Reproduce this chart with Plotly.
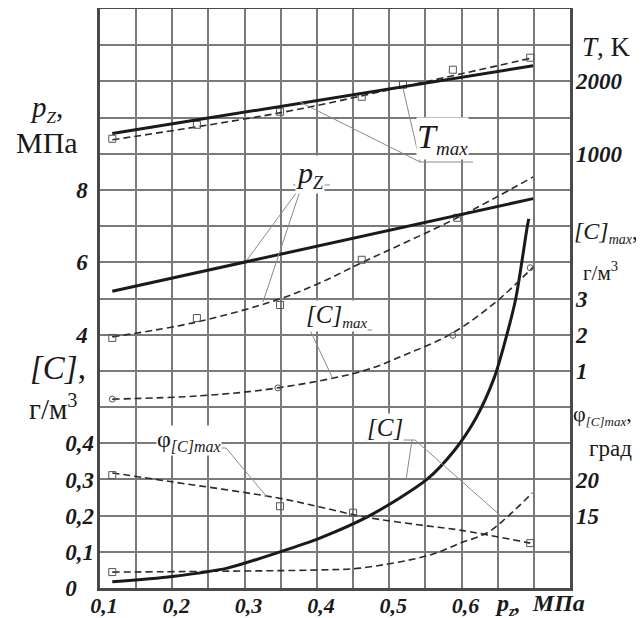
import plotly.graph_objects as go

# ---------------- data ----------------
# x axis: p_c, MPa
x_ticks = [0.1, 0.15, 0.2, 0.25, 0.3, 0.35, 0.4, 0.45, 0.5, 0.55, 0.6, 0.65, 0.7, 0.75]
x_ticktext = ["0,1", "", "0,2", "", "0,3", "", "0,4", "", "0,5", "", "0,6", "", "", ""]

# left axis p_z (MPa) – grid rows
pz_ticks = list(range(-3, 14))
pz_labels = {4: "4", 6: "6", 8: "8"}

# left axis [C], g/m3
c_ticks = [0, 0.1, 0.2, 0.3, 0.4]
c_ticktext = ["0\u00a0\u00a0\u00a0", "0,1", "0,2", "0,3", "0,4"]

# right axes
t_ticks = [1000, 2000]
cmax_ticks = [1, 2, 3]
phi_ticks = [15, 20]

# T_max, K
t_solid_x = [0.117, 0.699]
t_solid_y = [1280, 2216]
t_dash_x = [0.117, 0.349, 0.519, 0.699]
t_dash_y = [1193, 1566, 1926, 2327]
t_mark_x = [0.117, 0.234, 0.349, 0.462, 0.519, 0.588, 0.695]
t_mark_y = [1207, 1400, 1580, 1787, 1953, 2161, 2327]

# p_z, MPa
pz_solid_x = [0.117, 0.699]
pz_solid_y = [5.2, 7.76]
pz_dash_x = [0.117, 0.234, 0.349, 0.404, 0.462, 0.594, 0.699]
pz_dash_y = [3.94, 4.35, 4.99, 5.43, 5.99, 7.23, 8.36]
pz_mark_x = [0.117, 0.234, 0.349, 0.462, 0.594]
pz_mark_y = [3.91, 4.46, 4.82, 6.07, 7.23]

# [C]max, g/m3
cmax_x = [0.117, 0.238, 0.346, 0.464, 0.519, 0.588, 0.649, 0.699]
cmax_y = [0.22, 0.31, 0.53, 1.0, 1.42, 2.05, 2.93, 3.87]
cmax_mark_x = [0.117, 0.346, 0.588, 0.695]
cmax_mark_y = [0.22, 0.53, 1.98, 3.85]

# [C], g/m3 (solid)
c_solid_x = [0.117, 0.2, 0.276, 0.349, 0.404, 0.473, 0.552, 0.59, 0.62, 0.645, 0.66, 0.675, 0.691, 0.693]
c_solid_y = [0.017, 0.032, 0.055, 0.10, 0.138, 0.20, 0.30, 0.38, 0.47, 0.58, 0.68, 0.80, 1.00, 1.02]
# [C], g/m3 (dashed)
c_dash_x = [0.117, 0.25, 0.404, 0.46, 0.556, 0.598, 0.635, 0.663, 0.698]
c_dash_y = [0.044, 0.046, 0.050, 0.055, 0.091, 0.124, 0.152, 0.196, 0.263]
c_mark_x = [0.117]
c_mark_y = [0.044]

# phi_[C]max, deg
phi_x = [0.117, 0.201, 0.346, 0.404, 0.467, 0.543, 0.598, 0.695]
phi_y = [20.9, 19.65, 17.44, 16.2, 14.8, 13.7, 13.0, 11.2]
phi_mark_x = [0.117, 0.349, 0.45, 0.695]
phi_mark_y = [20.6, 16.3, 15.4, 11.2]

# ---------------- figure ----------------
OFF = 8                      # page body margin in the browser
W, H = 644 - OFF, 618 - OFF
ML, MR, MT, MB = 92, 74, 1, 30
PW, PH = W - ML - MR, H - MT - MB
SERIF = "Liberation Serif, Times New Roman, serif"
INK = "#1a1a1a"


def px(x):
    return (x - OFF - ML) / PW


def py(y):
    return (H - MB - (y - OFF)) / PH


fig = go.Figure()

solid = dict(color=INK, width=3)
dashed = dict(color="#2a2a2a", width=1.6, dash="7px,4px")
sq = dict(symbol="square-open", size=7, color="#555", line=dict(width=1))
ci = dict(symbol="circle-open", size=6, color="#555", line=dict(width=1))

fig.add_trace(go.Scatter(x=t_dash_x, y=t_dash_y, yaxis="y3", mode="lines", line=dashed, line_shape="spline"))
fig.add_trace(go.Scatter(x=t_mark_x, y=t_mark_y, yaxis="y3", mode="markers", marker=sq))
fig.add_trace(go.Scatter(x=t_solid_x, y=t_solid_y, yaxis="y3", mode="lines", line=solid))

fig.add_trace(go.Scatter(x=pz_dash_x, y=pz_dash_y, yaxis="y", mode="lines", line=dashed, line_shape="spline"))
fig.add_trace(go.Scatter(x=pz_mark_x, y=pz_mark_y, yaxis="y", mode="markers", marker=sq))
fig.add_trace(go.Scatter(x=pz_solid_x, y=pz_solid_y, yaxis="y", mode="lines", line=solid))

fig.add_trace(go.Scatter(x=cmax_x, y=cmax_y, yaxis="y4", mode="lines", line=dashed, line_shape="spline"))
fig.add_trace(go.Scatter(x=cmax_mark_x, y=cmax_mark_y, yaxis="y4", mode="markers", marker=ci))

fig.add_trace(go.Scatter(x=phi_x, y=phi_y, yaxis="y5", mode="lines", line=dashed, line_shape="spline"))
fig.add_trace(go.Scatter(x=phi_mark_x, y=phi_mark_y, yaxis="y5", mode="markers", marker=sq))

fig.add_trace(go.Scatter(x=c_dash_x, y=c_dash_y, yaxis="y2", mode="lines", line=dashed, line_shape="spline"))
fig.add_trace(go.Scatter(x=c_mark_x, y=c_mark_y, yaxis="y2", mode="markers", marker=sq))
fig.add_trace(go.Scatter(x=c_solid_x, y=c_solid_y, yaxis="y2", mode="lines", line=solid,
                         line_shape="spline", line_smoothing=0.8))

tickfont = dict(family=SERIF, size=23, color=INK)
xtickfont = dict(family=SERIF, size=22, color=INK)


def bi(s):
    return f"<b><i>{s}</i></b>" if s else ""


def sub(s, size):
    return f'<sub><span style="font-size:{size}px">{s}</span></sub>'


common_over = dict(overlaying="y", anchor="x", showgrid=False, zeroline=False, showline=False,
                   ticks="", tickfont=tickfont, tickmode="array", ticklabelstandoff=5,
                   automargin=False)

fig.update_layout(
    width=W, height=H,
    margin=dict(l=ML, r=MR, t=MT, b=MB),
    paper_bgcolor="white", plot_bgcolor="white",
    showlegend=False,
    xaxis=dict(range=[0.1, 0.75], tickmode="array", tickvals=x_ticks,
               ticktext=[bi(t) for t in x_ticktext], tickfont=xtickfont,
               showgrid=True, gridcolor="#7a7a7a", gridwidth=1.6, zeroline=False,
               showline=True, linecolor="#4a4a4a", linewidth=2.5, mirror=True,
               ticks="", ticklabelshift=4, ticklabelstandoff=-4, automargin=False),
    yaxis=dict(range=[-3, 13], tickmode="array", tickvals=pz_ticks,
               ticktext=[bi(pz_labels.get(v, "")) for v in pz_ticks], tickfont=tickfont,
               showgrid=True, gridcolor="#7a7a7a", gridwidth=1.6, zeroline=False,
               showline=True, linecolor="#4a4a4a", linewidth=2.5, mirror=True,
               ticks="", ticklabelstandoff=5, automargin=False),
    yaxis2=dict(range=[0, 1.6], side="left", tickvals=c_ticks,
                ticktext=[bi(t) for t in c_ticktext], **common_over),
    yaxis3=dict(range=[-5000, 3000], side="right", tickvals=t_ticks,
                ticktext=[bi(str(v)) for v in t_ticks], **common_over),
    yaxis4=dict(range=[-5, 11], side="right", tickvals=cmax_ticks,
                ticktext=[bi(str(v)) for v in cmax_ticks], **common_over),
    yaxis5=dict(range=[5, 85], side="right", tickvals=phi_ticks,
                ticktext=[bi(str(v)) for v in phi_ticks], **common_over),
)

# ---------------- text labels ----------------
def ann(x, y, text, size, xanchor="center", bg=None, yanchor="middle"):
    fig.add_annotation(x=px(x), y=py(y), xref="paper", yref="paper", text=text,
                       showarrow=False, xanchor=xanchor, yanchor=yanchor,
                       font=dict(family=SERIF, size=size, color=INK),
                       bgcolor=bg, borderpad=0)


ann(606, 47, "<i>T</i>, K", 27)
ann(46, 109, "<i>p</i>" + sub("<i>Z</i>", 17) + ",", 29)
ann(47, 142, "МПа", 30)
ann(58, 368, "<i>[C]</i>,", 33)
ann(53, 407, "г/м<sup>3</sup>", 29)
ann(573, 232, "<i>[C]</i>" + sub("<i>max</i>", 14) + ",", 24, xanchor="left")
ann(600, 271, "г/м<sup>3</sup>", 21)
ann(572, 415, "φ" + sub("<i>[C]max</i>", 13) + ",", 22, xanchor="left")
ann(610, 448, "град", 23)
ann(540, 604, "<b><i>p</i></b>" + sub("<b><i>z</i></b>", 15) + "<b><i>,  МПа</i></b>", 24)

ann(416, 138, "<i>T</i>" + sub("<i>max</i>", 19), 34, xanchor="left", bg="white")
ann(295, 174, "<i>p</i>" + sub("<i>Z</i>", 18), 30, xanchor="left", bg="white")
ann(305, 316, "<i>[C]</i>" + sub("<i>max</i>", 15), 25, xanchor="left", bg="white")
ann(156, 440, "φ" + sub("<i>[C]max</i>", 16), 24, xanchor="left", bg="white")
ann(366, 427, "<i>[C]</i>", 25, xanchor="left", bg="white")

# leader lines / underlines
leaders = [
    (420, 162, 473, 162), (420, 162, 403, 88), (420, 162, 300, 102),
    (293, 185, 330, 185), (302, 185, 247, 260), (302, 185, 263, 302),
    (308, 330, 372, 330), (310, 330, 332, 377),
    (168, 448, 226, 448), (226, 448, 267, 497),
    (366, 440, 415, 440), (412, 440, 406, 480), (415, 440, 502, 517),
]
for x0, y0, x1, y1 in leaders:
    fig.add_shape(type="line", xref="paper", yref="paper",
                  x0=px(x0), y0=py(y0), x1=px(x1), y1=py(y1),
                  line=dict(color="#8a8a8a", width=1))

fig.write_html("out.html")
